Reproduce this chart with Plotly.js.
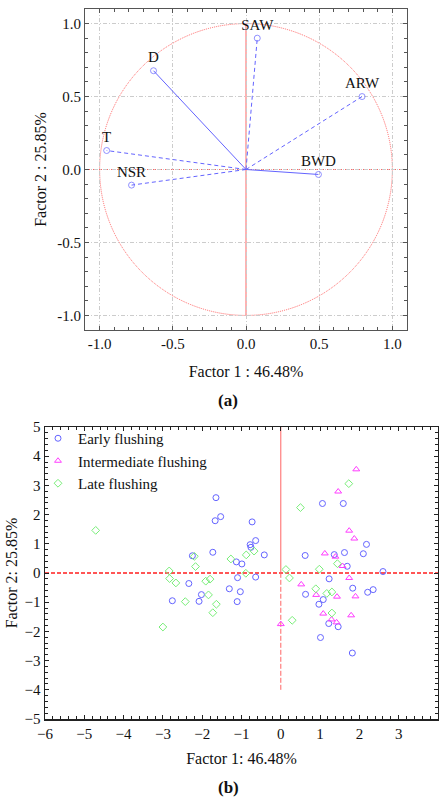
<!DOCTYPE html>
<html><head><meta charset="utf-8">
<script src="https://cdn.plot.ly/plotly-3.0.1.min.js"></script>
<style>html,body{margin:0;padding:0;background:#fff}</style>
</head><body><div id="chart" style="width:439px;height:797px"></div>
<script>
// (a) factor loadings
const vecNames = ['SAW','D','ARW','T','NSR','BWD'];
const vecX = [0.077, -0.632, 0.793, -0.952, -0.782, 0.495];
const vecY = [0.90, 0.677, 0.50, 0.13, -0.107, -0.034];
const vecDash = ['4px,3px','solid','4px,3px','4px,3px','4px,3px','solid'];

// (b) factor scores
const earlyX = [-1.65,-1.53,-1.67,-0.73,-0.64,-0.78,-0.76,-0.42,-1.73,-2.25,-1.13,-0.99,-1.10,-0.64,-2.34,-1.31,-1.03,-2.02,-2.76,-2.08,-1.11,1.06,1.59,2.18,2.10,1.62,0.62,1.36,1.69,2.60,1.23,1.83,0.63,1.08,0.97,2.21,2.35,1.22,1.46,1.01,1.82];
const earlyY = [2.58,1.93,1.79,1.75,1.11,0.97,0.88,0.62,0.71,0.59,0.38,0.31,-0.16,-0.14,-0.36,-0.54,-0.64,-0.74,-0.95,-0.97,-0.98,2.38,2.38,0.98,0.66,0.70,0.60,0.63,0.23,0.05,-0.20,-0.52,-0.73,-0.91,-1.07,-0.66,-0.57,-1.73,-1.84,-2.21,-2.74];
const interX = [1.92,1.46,1.74,1.87,1.12,1.39,1.57,1.74,0.52,0.90,1.43,1.90,1.08,1.29,1.42,1.79,0.0];
const interY = [3.55,2.79,1.45,1.18,0.67,0.56,0.24,-0.17,-0.39,-0.75,-0.81,-0.80,-1.39,-1.59,-1.69,-1.45,-1.75];
const lateX = [-4.71,-2.20,-2.17,-1.27,-0.88,-0.68,-2.84,-0.89,-2.83,-2.67,-1.91,-1.80,-1.84,-2.43,-1.64,-1.73,-3.00,1.73,0.50,1.44,0.13,0.98,0.22,0.89,1.17,1.30,1.30,0.29];
const lateY = [1.46,0.57,0.22,0.48,0.62,0.75,0.07,-0.01,-0.19,-0.34,-0.28,-0.21,-0.75,-0.98,-1.07,-1.36,-1.85,3.06,2.24,0.32,0.12,0.13,-0.17,-0.54,-0.70,-0.65,-1.37,-1.62];
const groupNames = ['Early flushing','Intermediate flushing','Late flushing'];

const FONT = 'Liberation Serif, Times New Roman, serif';
const BLUE = 'rgb(100,100,255)';
const MAG = 'rgb(255,60,255)';
const GRN = 'rgb(120,238,120)';
const RED = 'rgb(255,100,100)';

const traces = [];
for (let i = 0; i < vecNames.length; i++) {
  traces.push({
    x: [0, vecX[i]], y: [0, vecY[i]], xaxis: 'x', yaxis: 'y',
    mode: 'lines+markers+text', showlegend: false, hoverinfo: 'skip',
    line: {color: BLUE, width: 1, dash: vecDash[i]},
    marker: {symbol: 'circle-open', size: [0, 6], color: BLUE, line: {width: 1, color: BLUE}},
    text: ['', vecNames[i]], textposition: 'top center',
    textfont: {family: FONT, size: 15, color: '#111'}
  });
}
const gX = [earlyX, interX, lateX], gY = [earlyY, interY, lateY];
const gSym = ['circle-open','triangle-up-open','diamond-open'];
const gCol = [BLUE, MAG, GRN];
for (let k = 0; k < 3; k++) {
  traces.push({
    x: gX[k], y: gY[k], xaxis: 'x2', yaxis: 'y2', name: groupNames[k],
    mode: 'markers', type: 'scatter',
    marker: {symbol: gSym[k], size: 6, color: gCol[k], line: {width: 1, color: gCol[k]}}
  });
}

const axBase = {
  showline: true, linecolor: '#555', linewidth: 1, mirror: 'allticks',
  ticks: 'inside', ticklen: 4, tickcolor: '#555', zeroline: false,
  tickfont: {family: FONT, size: 15, color: '#111'}
};

const layout = {
  width: 439, height: 797, margin: {l: 0, r: 0, t: 0, b: 0},
  paper_bgcolor: '#fff', plot_bgcolor: '#fff',
  font: {family: FONT, color: '#111'},
  xaxis: Object.assign({}, axBase, {
    domain: [85/439, 407/439], anchor: 'y', range: [-1.1, 1.1],
    tickvals: [-1, -0.5, 0, 0.5, 1], ticktext: ['-1.0','-0.5','0.0','0.5','1.0'],
    showgrid: true, gridcolor: '#cccccc', griddash: '4px,2px,1px,2px', gridwidth: 1,
    minor: {dtick: 0.1, tick0: 0, ticks: 'inside', ticklen: 3, tickcolor: '#555', showgrid: false},
    title: {text: 'Factor 1 : 46.48%', font: {family: FONT, size: 16}, standoff: 14}
  }),
  yaxis: Object.assign({}, axBase, {
    domain: [1 - 330/797, 1 - 9/797], anchor: 'x', range: [-1.1, 1.1],
    tickvals: [-1, -0.5, 0, 0.5, 1], ticktext: ['-1.0','-0.5','0.0','0.5','1.0'],
    showgrid: true, gridcolor: '#cccccc', griddash: '4px,2px,1px,2px', gridwidth: 1,
    minor: {dtick: 0.1, tick0: 0, ticks: 'inside', ticklen: 3, tickcolor: '#555', showgrid: false},
    title: {text: 'Factor 2 : 25.85%', font: {family: FONT, size: 16}, standoff: 6}
  }),
  xaxis2: Object.assign({}, axBase, {
    domain: [45/439, 438/439], anchor: 'y2', range: [-6, 4], dtick: 1, tick0: 0,
    linecolor: '#222', linewidth: 1.5, tickcolor: '#222', showgrid: false,
    minor: {dtick: 0.2, tick0: 0, ticks: 'inside', ticklen: 3, tickcolor: '#222'},
    title: {text: 'Factor 1: 46.48%', font: {family: FONT, size: 16}, standoff: 12}
  }),
  yaxis2: Object.assign({}, axBase, {
    domain: [1 - 719/797, 1 - 427/797], anchor: 'x2', range: [-5, 5], dtick: 1, tick0: 0,
    linecolor: '#222', linewidth: 1.5, tickcolor: '#222', showgrid: false,
    minor: {dtick: 0.2, tick0: 0, ticks: 'inside', ticklen: 3, tickcolor: '#222'},
    title: {text: 'Factor 2: 25.85%', font: {family: FONT, size: 16}, standoff: 3}
  }),
  shapes: [
    {type: 'circle', xref: 'x', yref: 'y', x0: -1, x1: 1, y0: -1, y1: 1,
     line: {color: RED, width: 1, dash: '1px,1px'}, layer: 'below'},
    {type: 'line', xref: 'x', yref: 'y', x0: 0, x1: 0, y0: -1, y1: 1,
     line: {color: RED, width: 1}, layer: 'below'},
    {type: 'line', xref: 'x domain', yref: 'y', x0: 0, x1: 1, y0: 0, y1: 0,
     line: {color: RED, width: 1, dash: '1px,1px'}, layer: 'below'},
    {type: 'line', xref: 'x2', yref: 'y2', x0: 0, x1: 0, y0: 0, y1: 5,
     line: {color: RED, width: 1}, layer: 'below'},
    {type: 'line', xref: 'x2', yref: 'y2', x0: 0, x1: 0, y0: -4, y1: 0,
     line: {color: RED, width: 1, dash: '5px,2px'}, layer: 'below'},
    {type: 'line', xref: 'x2 domain', yref: 'y2', x0: 0, x1: 1, y0: 0, y1: 0,
     line: {color: 'rgb(255,30,30)', width: 1.5, dash: '4px,2px'}, layer: 'below'}
  ],
  legend: {x: 38/439, y: 1 - 422/797, xanchor: 'left', yanchor: 'top',
    bgcolor: 'rgba(0,0,0,0)', borderwidth: 0, tracegroupgap: 0,
    font: {family: FONT, size: 15, color: '#111'}},
  annotations: [
    {xref: 'paper', yref: 'paper', x: 228/439, y: 1 - 400/797, yanchor: 'middle', text: '<b>(a)</b>',
     showarrow: false, font: {family: FONT, size: 17, color: '#111'}},
    {xref: 'paper', yref: 'paper', x: 228/439, y: 1 - 787/797, yanchor: 'middle', text: '<b>(b)</b>',
     showarrow: false, font: {family: FONT, size: 17, color: '#111'}}
  ]
};

Plotly.newPlot('chart', traces, layout, {displayModeBar: false, staticPlot: true});
</script></body></html>
